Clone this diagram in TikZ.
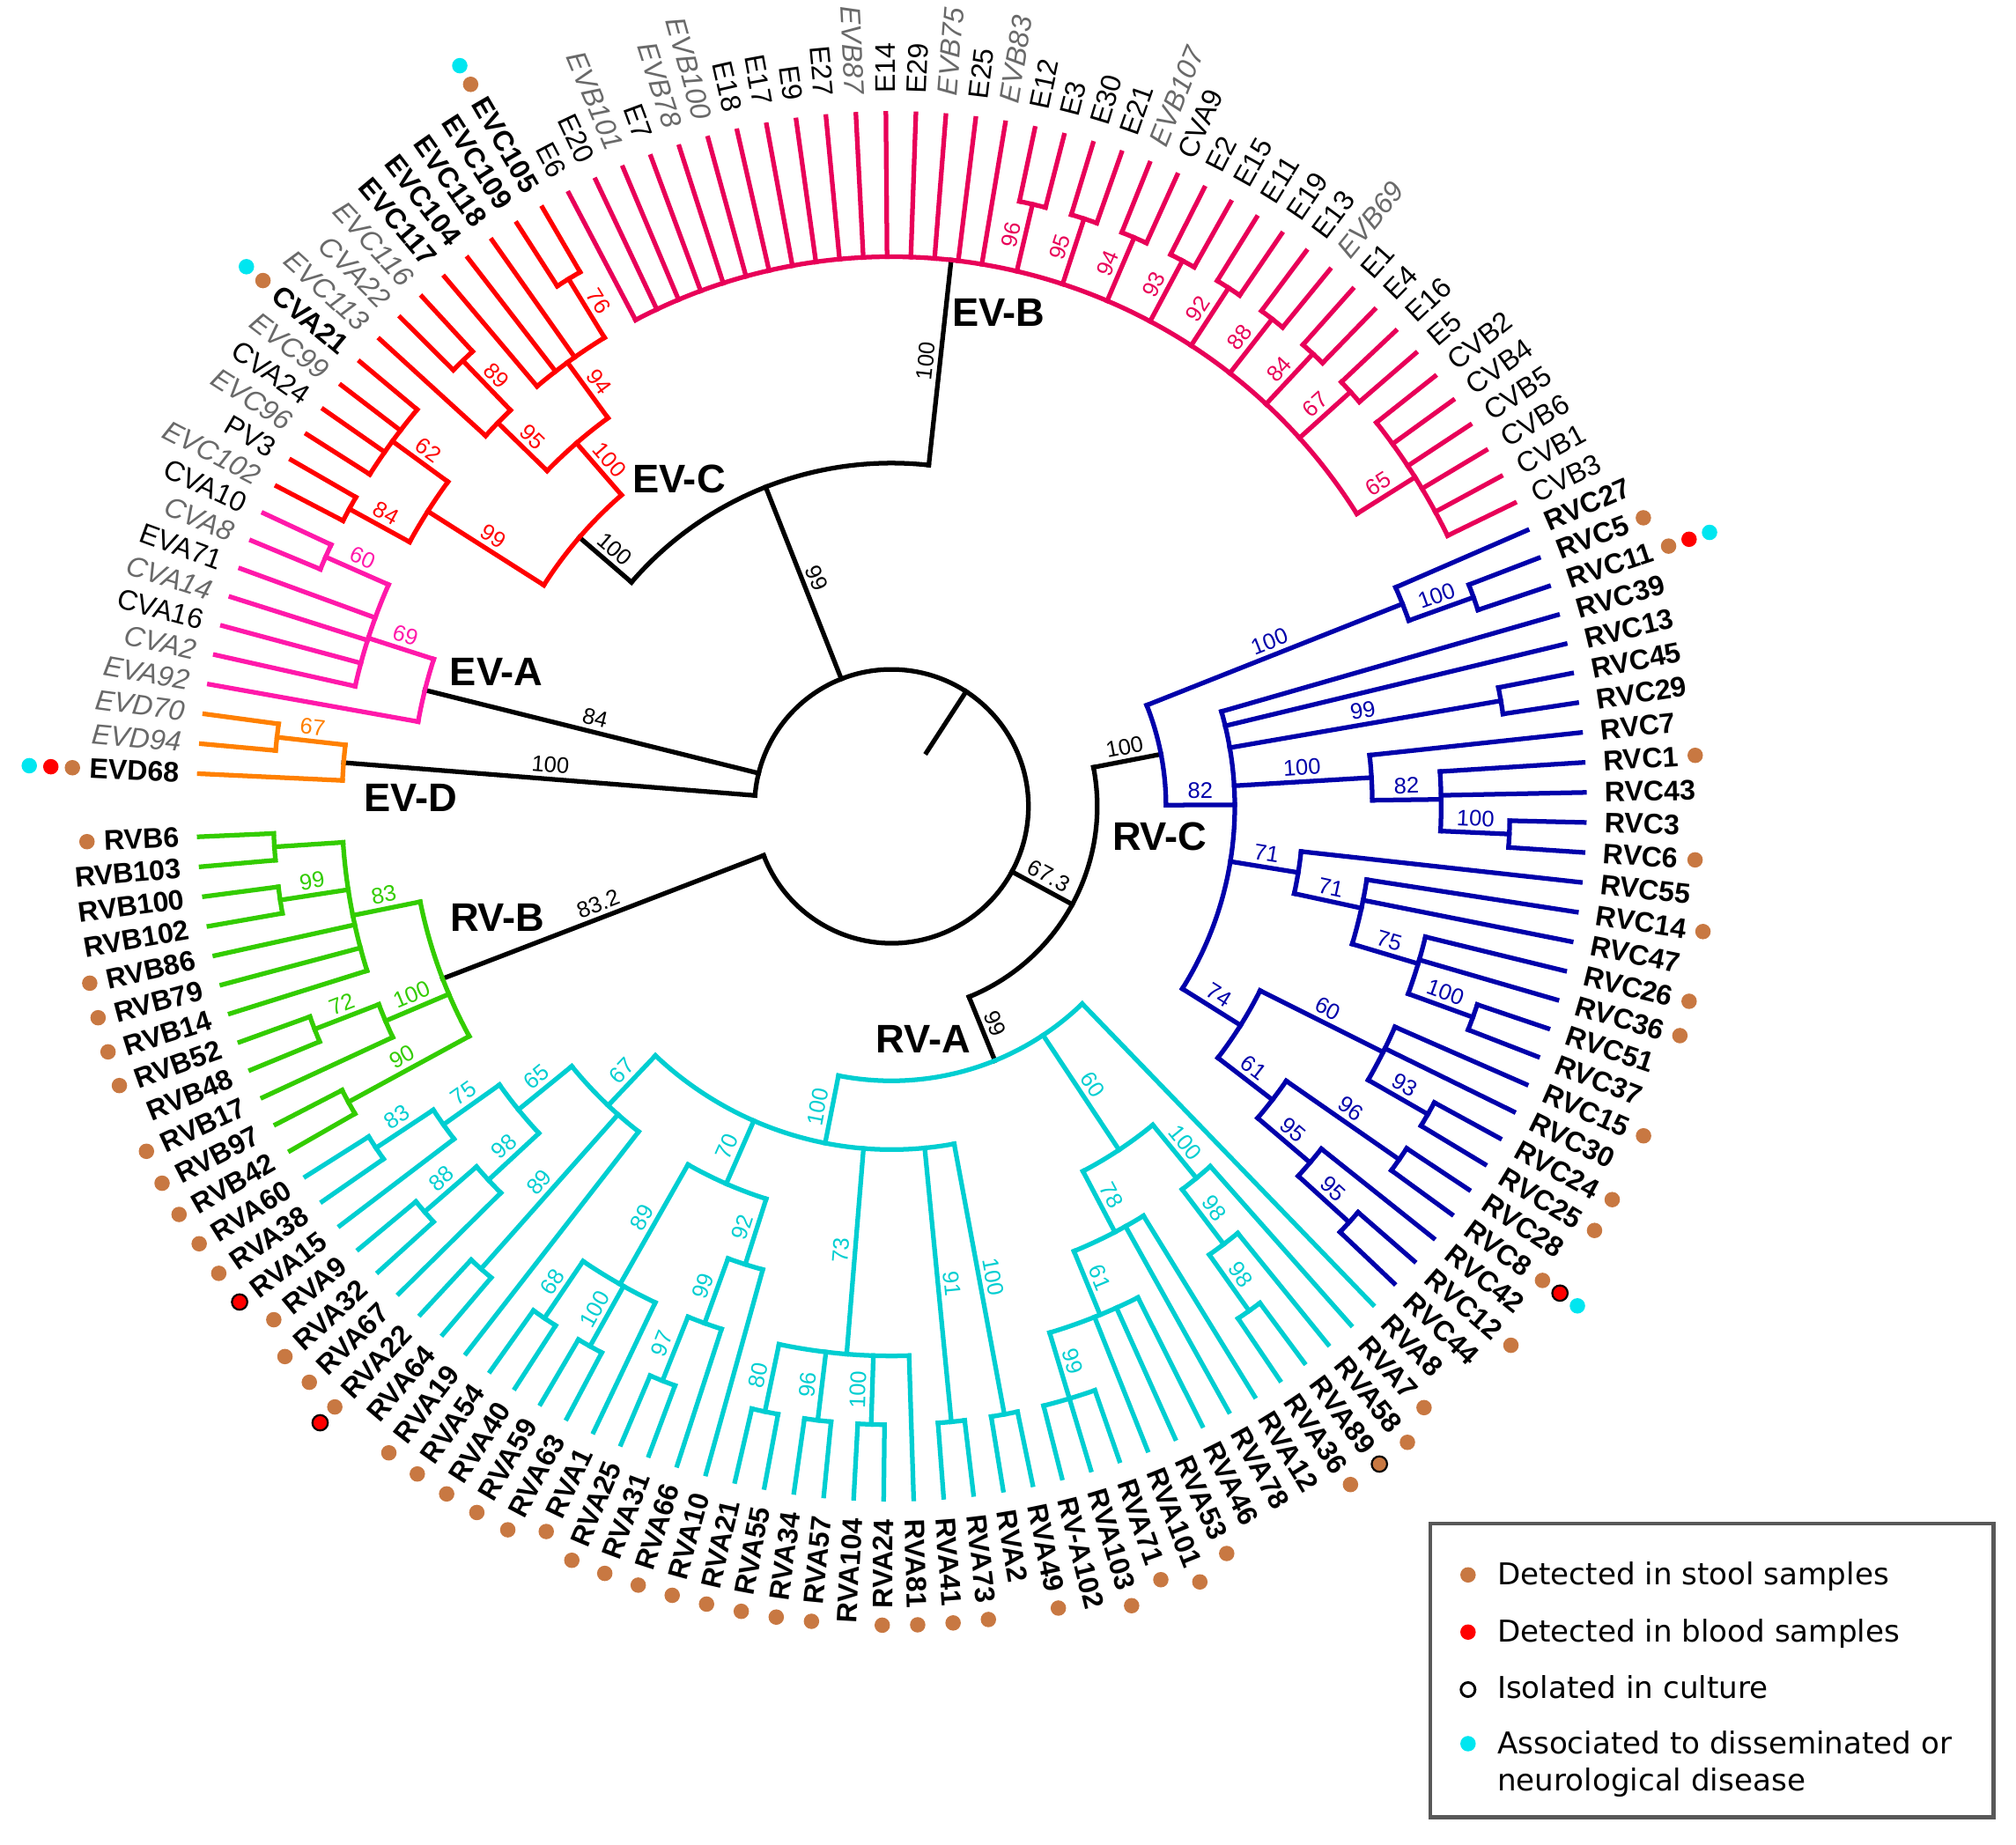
\documentclass[tikz,border=0pt]{standalone}
\usepackage{fontspec}
\setmainfont{Liberation Sans}
\newfontfamily\legfont{DejaVu Sans}
\definecolor{evd}{RGB}{255,128,0}
\definecolor{eva}{RGB}{255,25,170}
\definecolor{evb}{RGB}{232,0,88}
\definecolor{evc}{RGB}{255,0,0}
\definecolor{rva}{RGB}{0,206,209}
\definecolor{rvb}{RGB}{51,204,0}
\definecolor{rvc}{RGB}{0,0,170}
\definecolor{gtxt}{RGB}{105,105,105}
\definecolor{stool}{RGB}{200,120,66}
\definecolor{blood}{RGB}{255,0,0}
\definecolor{dis}{RGB}{0,230,240}
\definecolor{legbox}{RGB}{88,88,88}
% level -> radius
\newcommand\Rv[1]{(106.5+53.5*(#1))}
% radial stem: idx, level1, level2
\newcommand\stm[3]{\draw ({177.3-2.481*(#1)}:{\Rv{#2}*1pt}) -- ({177.3-2.481*(#1)}:{\Rv{#3}*1pt});}
% arc: idx1, idx2, level
\newcommand\carc[3]{\draw ({177.3-2.481*(#1)}:{\Rv{#3}*1pt}) arc[start angle={177.3-2.481*(#1)}, end angle={177.3-2.481*(#2)}, radius={\Rv{#3}*1pt}];}
% bootstrap label: idx, level1, level2, text
\newcommand\bsl[4]{%
  \pgfmathsetmacro\thb{177.3-2.481*(#1)}%
  \pgfmathsetmacro\phb{(\thb>91||\thb<-89.5)?\thb+180:\thb}%
  \pgfmathsetmacro\rb{(\Rv{#2}+\Rv{#3})/2}%
  \path (\thb:\rb pt) node[bsn,rotate=\phb] {#4};}
% leaf: idx, parent level, text, style
\newcommand\tipleaf[4]{%
  \pgfmathsetmacro\thl{177.3-2.481*(#1)}%
  \draw (\thl:{\Rv{#2}*1pt}) -- (\thl:539pt);%
  \pgfmathsetmacro\ph{(\thl>91||\thl<-89.5)?\thl+180:\thl}%
  \pgfmathsetmacro\fl{(\thl>91||\thl<-89.5)?1:0}%
  \ifdim\fl pt>0.5pt
    \path (\thl:553pt) node[#4,rotate=\ph,anchor=east] (L#1) {#3};
  \else
    \path (\thl:553pt) node[#4,rotate=\ph,anchor=west] (L#1) {#3};
  \fi}
% dots after a label: idx, list of dot styles
\newcommand\ldt[2]{%
  \pgfmathsetmacro\thd{177.3-2.481*(#1)}%
  \pgfmathsetmacro\fd{(\thd>91||\thd<-89.5)?1:0}%
  \ifdim\fd pt>0.5pt
    \foreach \c [count=\k] in {#2} {\pgfmathsetmacro\dd{11.5+(\k-1)*16.8}\path[\c] (L#1.west) ++(\thd:\dd pt) circle[radius=6pt];}
  \else
    \foreach \c [count=\k] in {#2} {\pgfmathsetmacro\dd{11.5+(\k-1)*16.8}\path[\c] (L#1.east) ++(\thd:\dd pt) circle[radius=6pt];}
  \fi}
\begin{document}
\begin{tikzpicture}[x=1pt,y=1pt,line width=3.6pt,line cap=rect,
  lb/.style={font=\fontsize{22}{26}\selectfont\bfseries,text=black,inner sep=0pt},
  lr/.style={font=\fontsize{22}{26}\selectfont,text=black,inner sep=0pt},
  lg/.style={font=\fontsize{22}{26}\selectfont\itshape,text=gtxt,inner sep=0pt},
  bsn/.style={anchor=south,inner sep=3pt,font=\fontsize{17.5}{19}\selectfont},
  clade/.style={font=\fontsize{31}{34}\selectfont\bfseries,text=black,inner sep=0pt},
  legt/.style={font=\legfont\fontsize{23.4}{26}\selectfont,anchor=base west,inner sep=0pt,text=black},
  dst/.style={fill=stool},
  dbl/.style={fill=blood},
  ddi/.style={fill=dis},
  dblc/.style={fill=blood,draw=black,line width=1.5pt},
  dstc/.style={fill=stool,draw=black,line width=1.5pt}]
\useasboundingbox (-693.4,-807.8) rectangle (874.6,627.2);
\fill[white] (-693.4,-807.8) rectangle (874.6,627.2);

% ---------- root (black) ----------
\begin{scope}[color=black]
\carc{0.75}{135.55}{0}
\draw (57:50pt) -- (57:106.5pt);
\stm{0.75}{0}{6} \bsl{0.75}{0}{6}{100}
\stm{4.55}{0}{5} \bsl{4.55}{0}{5}{84}
\stm{26.52}{0}{3} \bsl{26.52}{0}{3}{99}
\stm{82.94}{0}{1} \bsl{82.94}{0}{1}{67.3}
\stm{135.55}{0}{5} \bsl{135.55}{0}{5}{83.2}
\carc{15.34}{37.7}{3}
\stm{15.34}{3}{4} \bsl{15.34}{3}{4}{100}
\stm{37.7}{3}{6} \bsl{37.7}{3}{6}{100}
\carc{67.05}{98.82}{1}
\stm{67.05}{1}{2} \bsl{67.05}{1}{2}{100}
\stm{98.82}{1}{2} \bsl{98.82}{1}{2}{99}
\end{scope}

% ---------- EV-D ----------
\begin{scope}[color=evd]
\carc{0}{1.5}{6}
\tipleaf{0}{6}{EVD68}{lb}
\stm{1.5}{6}{7} \bsl{1.5}{6}{7}{67}
\carc{1}{2}{7}
\tipleaf{1}{7}{EVD94}{lg}
\tipleaf{2}{7}{EVD70}{lg}
\end{scope}

% ---------- EV-A ----------
\begin{scope}[color=eva]
\carc{3}{6.1}{5}
\tipleaf{3}{5}{EVA92}{lg}
\stm{6.1}{5}{6} \bsl{6.1}{5}{6}{69}
\carc{4}{8.5}{6}
\tipleaf{4}{6}{CVA2}{lg}
\tipleaf{5}{6}{CVA16}{lr}
\tipleaf{6}{6}{CVA14}{lg}
\tipleaf{7}{6}{EVA71}{lr}
\stm{8.5}{6}{7} \bsl{8.5}{6}{7}{60}
\carc{8}{9}{7}
\tipleaf{8}{7}{CVA8}{lg}
\tipleaf{9}{7}{CVA10}{lr}
\end{scope}

% ---------- EV-C ----------
\begin{scope}[color=evc]
\carc{12}{18.69}{4}
\stm{12}{4}{6} \bsl{12}{4}{6}{99}
\carc{10.5}{13.5}{6}
\stm{10.5}{6}{7} \bsl{10.5}{6}{7}{84}
\carc{10}{11}{7}
\tipleaf{10}{7}{EVC102}{lg}
\tipleaf{11}{7}{PV3}{lr}
\stm{13.5}{6}{7} \bsl{13.5}{6}{7}{62}
\carc{12}{15}{7}
\tipleaf{12}{7}{EVC96}{lg}
\tipleaf{13}{7}{CVA24}{lr}
\tipleaf{14}{7}{EVC99}{lg}
\tipleaf{15}{7}{CVA21}{lb}
\stm{18.69}{4}{5} \bsl{18.69}{4}{5}{100}
\carc{16.75}{20.625}{5}
\stm{16.75}{5}{6} \bsl{16.75}{5}{6}{95}
\carc{16}{17.5}{6}
\tipleaf{16}{6}{EVC113}{lg}
\stm{17.5}{6}{7} \bsl{17.5}{6}{7}{89}
\carc{17}{18}{7}
\tipleaf{17}{7}{CVA22}{lg}
\tipleaf{18}{7}{EVC116}{lg}
\stm{20.625}{5}{6} \bsl{20.625}{5}{6}{94}
\carc{19}{22.5}{6}
\tipleaf{19}{6}{EVC117}{lb}
\tipleaf{20}{6}{EVC104}{lb}
\tipleaf{21}{6}{EVC118}{lb}
\stm{22.5}{6}{7} \bsl{22.5}{6}{7}{76}
\carc{22}{23}{7}
\tipleaf{22}{7}{EVC109}{lb}
\tipleaf{23}{7}{EVC105}{lb}
\end{scope}

% ---------- EV-B ----------
\begin{scope}[color=evb]
\carc{24}{58.5}{6}
\tipleaf{24}{6}{E6}{lr}
\tipleaf{25}{6}{E20}{lr}
\tipleaf{26}{6}{EVB101}{lg}
\tipleaf{27}{6}{E7}{lr}
\tipleaf{28}{6}{EVB78}{lg}
\tipleaf{29}{6}{EVB100}{lg}
\tipleaf{30}{6}{E18}{lr}
\tipleaf{31}{6}{E17}{lr}
\tipleaf{32}{6}{E9}{lr}
\tipleaf{33}{6}{E27}{lr}
\tipleaf{34}{6}{EVB87}{lg}
\tipleaf{35}{6}{E14}{lr}
\tipleaf{36}{6}{E29}{lr}
\tipleaf{37}{6}{EVB75}{lg}
\tipleaf{38}{6}{E25}{lr}
\tipleaf{39}{6}{EVB83}{lg}
\stm{40.5}{6}{7}\bsl{40.5}{6}{7}{96}\carc{40}{41}{7}
\tipleaf{40}{7}{E12}{lr}\tipleaf{41}{7}{E3}{lr}
\stm{42.5}{6}{7}\bsl{42.5}{6}{7}{95}\carc{42}{43}{7}
\tipleaf{42}{7}{E30}{lr}\tipleaf{43}{7}{E21}{lr}
\stm{44.5}{6}{7}\bsl{44.5}{6}{7}{94}\carc{44}{45}{7}
\tipleaf{44}{7}{EVB107}{lg}\tipleaf{45}{7}{CVA9}{lr}
\stm{46.5}{6}{7}\bsl{46.5}{6}{7}{93}\carc{46}{47}{7}
\tipleaf{46}{7}{E2}{lr}\tipleaf{47}{7}{E15}{lr}
\stm{48.5}{6}{7}\bsl{48.5}{6}{7}{92}\carc{48}{49}{7}
\tipleaf{48}{7}{E11}{lr}\tipleaf{49}{7}{E19}{lr}
\stm{50.5}{6}{7}\bsl{50.5}{6}{7}{88}\carc{50}{51}{7}
\tipleaf{50}{7}{E13}{lr}\tipleaf{51}{7}{EVB69}{lg}
\stm{52.5}{6}{7}\bsl{52.5}{6}{7}{84}\carc{52}{53}{7}
\tipleaf{52}{7}{E1}{lr}\tipleaf{53}{7}{E4}{lr}
\stm{54.5}{6}{7}\bsl{54.5}{6}{7}{67}\carc{54}{55}{7}
\tipleaf{54}{7}{E16}{lr}\tipleaf{55}{7}{E5}{lr}
\stm{58.5}{6}{7}\bsl{58.5}{6}{7}{65}\carc{56}{61}{7}
\tipleaf{56}{7}{CVB2}{lr}
\tipleaf{57}{7}{CVB4}{lr}
\tipleaf{58}{7}{CVB5}{lr}
\tipleaf{59}{7}{CVB6}{lr}
\tipleaf{60}{7}{CVB1}{lr}
\tipleaf{61}{7}{CVB3}{lr}
\end{scope}

% ---------- RV-C ----------
\begin{scope}[color=rvc]
\carc{62.75}{71.36}{2}
\stm{62.75}{2}{6}\bsl{62.75}{2}{6}{100}
\carc{62}{63.5}{6}
\tipleaf{62}{6}{RVC27}{lb}
\stm{63.5}{6}{7}\bsl{63.5}{6}{7}{100}
\carc{63}{64}{7}
\tipleaf{63}{7}{RVC5}{lb}
\tipleaf{64}{7}{RVC11}{lb}
\stm{71.36}{2}{3}\bsl{71.36}{2}{3}{82}
\carc{65}{84.4}{3}
\tipleaf{65}{3}{RVC39}{lb}
\tipleaf{66}{3}{RVC13}{lb}
\stm{67.5}{3}{7}\bsl{67.5}{3}{7}{99}
\carc{67}{68}{7}
\tipleaf{67}{7}{RVC45}{lb}
\tipleaf{68}{7}{RVC29}{lb}
\stm{70.08}{3}{5}\bsl{70.08}{3}{5}{100}
\carc{69}{71.17}{5}
\tipleaf{69}{5}{RVC7}{lb}
\stm{71.17}{5}{6}\bsl{71.17}{5}{6}{82}
\carc{70}{72.5}{6}
\tipleaf{70}{6}{RVC1}{lb}
\tipleaf{71}{6}{RVC43}{lb}
\stm{72.5}{6}{7}\bsl{72.5}{6}{7}{100}
\carc{72}{73}{7}
\tipleaf{72}{7}{RVC3}{lb}
\tipleaf{73}{7}{RVC6}{lb}
\stm{75.19}{3}{4}\bsl{75.19}{3}{4}{71}
\carc{74}{76.39}{4}
\tipleaf{74}{4}{RVC55}{lb}
\stm{76.39}{4}{5}\bsl{76.39}{4}{5}{71}
\carc{75}{78.17}{5}
\tipleaf{75}{5}{RVC14}{lb}
\tipleaf{76}{5}{RVC47}{lb}
\stm{78.17}{5}{6}\bsl{78.17}{5}{6}{75}
\carc{77}{79.5}{6}
\tipleaf{77}{6}{RVC26}{lb}
\tipleaf{78}{6}{RVC36}{lb}
\stm{79.5}{6}{7}\bsl{79.5}{6}{7}{100}
\carc{79}{80}{7}
\tipleaf{79}{7}{RVC51}{lb}
\tipleaf{80}{7}{RVC37}{lb}
\stm{84.4}{3}{4}\bsl{84.4}{3}{4}{74}
\carc{82.17}{86.625}{4}
\stm{82.17}{4}{6}\bsl{82.17}{4}{6}{60}
\carc{81}{83.5}{6}
\tipleaf{81}{6}{RVC15}{lb}
\tipleaf{82}{6}{RVC30}{lb}
\stm{83.5}{6}{7}\bsl{83.5}{6}{7}{93}
\carc{83}{84}{7}
\tipleaf{83}{7}{RVC24}{lb}
\tipleaf{84}{7}{RVC25}{lb}
\stm{86.625}{4}{5}\bsl{86.625}{4}{5}{61}
\carc{85.5}{87.75}{5}
\stm{85.5}{5}{7}\bsl{85.5}{5}{7}{96}
\carc{85}{86}{7}
\tipleaf{85}{7}{RVC28}{lb}
\tipleaf{86}{7}{RVC8}{lb}
\stm{87.75}{5}{6}\bsl{87.75}{5}{6}{95}
\carc{87}{88.5}{6}
\tipleaf{87}{6}{RVC42}{lb}
\stm{88.5}{6}{7}\bsl{88.5}{6}{7}{95}
\carc{88}{89}{7}
\tipleaf{88}{7}{RVC12}{lb}
\tipleaf{89}{7}{RVC44}{lb}
\end{scope}

% ---------- RV-A ----------
\begin{scope}[color=rva]
\carc{90}{112.23}{2}
\tipleaf{90}{2}{RVA8}{lb}
\stm{94.23}{2}{4}\bsl{94.23}{2}{4}{60}
\carc{91.875}{96.58}{4}
\stm{91.875}{4}{5}\bsl{91.875}{4}{5}{100}
\carc{91}{92.75}{5}
\tipleaf{91}{5}{RVA7}{lb}
\stm{92.75}{5}{6}\bsl{92.75}{5}{6}{98}
\carc{92}{93.5}{6}
\tipleaf{92}{6}{RVA58}{lb}
\stm{93.5}{6}{7}\bsl{93.5}{6}{7}{98}
\carc{93}{94}{7}
\tipleaf{93}{7}{RVA89}{lb}
\tipleaf{94}{7}{RVA36}{lb}
\stm{96.58}{4}{5}\bsl{96.58}{4}{5}{78}
\carc{95}{98.75}{5}
\tipleaf{95}{5}{RVA12}{lb}
\tipleaf{96}{5}{RVA78}{lb}
\stm{98.75}{5}{6}\bsl{98.75}{5}{6}{61}
\carc{97}{101}{6}
\tipleaf{97}{6}{RVA46}{lb}
\tipleaf{98}{6}{RVA53}{lb}
\tipleaf{99}{6}{RVA101}{lb}
\stm{101}{6}{7}\bsl{101}{6}{7}{99}
\carc{100}{102}{7}
\tipleaf{100}{7}{RVA71}{lb}
\tipleaf{101}{7}{RVA103}{lb}
\tipleaf{102}{7}{RV-A102}{lb}
\stm{112.23}{2}{3}\bsl{112.23}{2}{3}{100}
\carc{103.5}{125.25}{3}
\stm{103.5}{3}{7}\bsl{103.5}{3}{7}{100}
\carc{103}{104}{7}
\tipleaf{103}{7}{RVA49}{lb}
\tipleaf{104}{7}{RVA2}{lb}
\stm{105.5}{3}{7}\bsl{105.5}{3}{7}{91}
\carc{105}{106}{7}
\tipleaf{105}{7}{RVA73}{lb}
\tipleaf{106}{7}{RVA41}{lb}
\stm{109.625}{3}{6}\bsl{109.625}{3}{6}{73}
\carc{107}{112.5}{6}
\tipleaf{107}{6}{RVA81}{lb}
\stm{108.5}{6}{7}\bsl{108.5}{6}{7}{100}
\carc{108}{109}{7}
\tipleaf{108}{7}{RVA24}{lb}
\tipleaf{109}{7}{RVA104}{lb}
\stm{110.5}{6}{7}\bsl{110.5}{6}{7}{96}
\carc{110}{111}{7}
\tipleaf{110}{7}{RVA57}{lb}
\tipleaf{111}{7}{RVA34}{lb}
\stm{112.5}{6}{7}\bsl{112.5}{6}{7}{80}
\carc{112}{113}{7}
\tipleaf{112}{7}{RVA55}{lb}
\tipleaf{113}{7}{RVA21}{lb}
\stm{117.27}{3}{4}\bsl{117.27}{3}{4}{70}
\carc{114.875}{119.67}{4}
\stm{114.875}{4}{5}\bsl{114.875}{4}{5}{92}
\carc{114}{115.75}{5}
\tipleaf{114}{5}{RVA10}{lb}
\stm{115.75}{5}{6}\bsl{115.75}{5}{6}{99}
\carc{115}{116.5}{6}
\tipleaf{115}{6}{RVA66}{lb}
\stm{116.5}{6}{7}\bsl{116.5}{6}{7}{97}
\carc{116}{117}{7}
\tipleaf{116}{7}{RVA31}{lb}
\tipleaf{117}{7}{RVA25}{lb}
\stm{119.67}{4}{6}\bsl{119.67}{4}{6}{89}
\carc{118}{121.5}{6}
\tipleaf{118}{6}{RVA1}{lb}
\stm{119.5}{6}{7}\bsl{119.5}{6}{7}{100}
\carc{119}{120}{7}
\tipleaf{119}{7}{RVA63}{lb}
\tipleaf{120}{7}{RVA59}{lb}
\stm{121.5}{6}{7}\bsl{121.5}{6}{7}{68}
\carc{121}{122}{7}
\tipleaf{121}{7}{RVA40}{lb}
\tipleaf{122}{7}{RVA54}{lb}
\stm{125.25}{3}{4}\bsl{125.25}{3}{4}{67}
\carc{123}{128.25}{4}
\tipleaf{123}{4}{RVA19}{lb}
\stm{124.5}{4}{7}\bsl{124.5}{4}{7}{89}
\carc{124}{125}{7}
\tipleaf{124}{7}{RVA64}{lb}
\tipleaf{125}{7}{RVA22}{lb}
\stm{128.25}{4}{5}\bsl{128.25}{4}{5}{65}
\carc{126.75}{129.75}{5}
\stm{126.75}{5}{6}\bsl{126.75}{5}{6}{98}
\carc{126}{127.5}{6}
\tipleaf{126}{6}{RVA67}{lb}
\stm{127.5}{6}{7}\bsl{127.5}{6}{7}{88}
\carc{127}{128}{7}
\tipleaf{127}{7}{RVA32}{lb}
\tipleaf{128}{7}{RVA9}{lb}
\stm{129.75}{5}{6}\bsl{129.75}{5}{6}{75}
\carc{129}{130.5}{6}
\tipleaf{129}{6}{RVA15}{lb}
\stm{130.5}{6}{7}\bsl{130.5}{6}{7}{83}
\carc{130}{131}{7}
\tipleaf{130}{7}{RVA38}{lb}
\tipleaf{131}{7}{RVA60}{lb}
\end{scope}

% ---------- RV-B ----------
\begin{scope}[color=rvb]
\carc{132.5}{139.4}{5}
\stm{132.5}{5}{7}\bsl{132.5}{5}{7}{90}
\carc{132}{133}{7}
\tipleaf{132}{7}{RVB42}{lb}
\tipleaf{133}{7}{RVB97}{lb}
\stm{134.75}{5}{6}\bsl{134.75}{5}{6}{100}
\carc{134}{135.5}{6}
\tipleaf{134}{6}{RVB17}{lb}
\stm{135.5}{6}{7}\bsl{135.5}{6}{7}{72}
\carc{135}{136}{7}
\tipleaf{135}{7}{RVB48}{lb}
\tipleaf{136}{7}{RVB52}{lb}
\stm{139.4}{5}{6}\bsl{139.4}{5}{6}{83}
\carc{137}{142.5}{6}
\tipleaf{137}{6}{RVB14}{lb}
\tipleaf{138}{6}{RVB79}{lb}
\tipleaf{139}{6}{RVB86}{lb}
\stm{140.5}{6}{7}\bsl{140.5}{6}{7}{99}
\carc{140}{141}{7}
\tipleaf{140}{7}{RVB102}{lb}
\tipleaf{141}{7}{RVB100}{lb}
\stm{142.5}{6}{7}
\carc{142}{143}{7}
\tipleaf{142}{7}{RVB103}{lb}
\tipleaf{143}{7}{RVB6}{lb}
\end{scope}

% ---------- dots ----------
\ldt{0}{dst,dbl,ddi}
\ldt{15}{dst,ddi}
\ldt{23}{dst,ddi}
\ldt{63}{dst}
\ldt{64}{dst,dbl,ddi}
\ldt{70}{dst}
\ldt{73}{dst}
\ldt{75}{dst}
\ldt{77}{dst}
\ldt{78}{dst}
\ldt{81}{dst}
\ldt{83}{dst}
\ldt{84}{dst}
\ldt{86}{dst,dblc,ddi}
\ldt{88}{dst}
\ldt{91}{dst}
\ldt{92}{dst}
\ldt{93}{dstc}
\ldt{94}{dst}
\ldt{98}{dst}
\ldt{99}{dst}
\ldt{100}{dst}
\ldt{101}{dst}
\ldt{103}{dst}
\ldt{105}{dst}
\ldt{106}{dst}
\ldt{107}{dst}
\ldt{108}{dst}
\ldt{110}{dst}
\ldt{111}{dst}
\ldt{112}{dst}
\ldt{113}{dst}
\ldt{114}{dst}
\ldt{115}{dst}
\ldt{116}{dst}
\ldt{117}{dst}
\ldt{118}{dst}
\ldt{119}{dst}
\ldt{120}{dst}
\ldt{121}{dst}
\ldt{122}{dst}
\ldt{123}{dst}
\ldt{125}{dst,dblc}
\ldt{126}{dst}
\ldt{127}{dst}
\ldt{128}{dst}
\ldt{129}{dblc}
\ldt{130}{dst}
\ldt{131}{dst}
\ldt{132}{dst}
\ldt{133}{dst}
\ldt{134}{dst}
\ldt{136}{dst}
\ldt{137}{dst}
\ldt{138}{dst}
\ldt{139}{dst}
\ldt{143}{dst}

% ---------- clade names ----------
\node[clade] (cEVB) at (83.3,383.8) {EV-B};
\node[clade] (cEVC) at (-165.3,254.6) {EV-C};
\node[clade] (cEVA) at (-307.2,104.9) {EV-A};
\node[clade] (cEVD) at (-374.2,6.4) {EV-D};
\node[clade] (cRVB) at (-306.6,-86.7) {RV-B};
\node[clade] (cRVC) at (208.6,-23.8) {RV-C};
\node[clade] (cRVA) at (24.8,-181.1) {RV-A};

% ---------- legend ----------
\draw[line width=3pt,draw=legbox] (419.2,-557.8) rectangle (857,-786.2);
\fill[stool] (448.4,-597.8) circle[radius=6pt];
\node[legt] (g1) at (469.4,-605.8) {Detected in stool samples};
\fill[blood] (448.4,-642.3) circle[radius=6pt];
\node[legt] (g2) at (469.4,-650.3) {Detected in blood samples};
\draw[line width=2pt] (448.4,-687) circle[radius=5.5pt];
\node[legt] (g3) at (469.4,-693.7) {Isolated in culture};
\fill[dis] (448.4,-729.1) circle[radius=6pt];
\node[legt] (g4) at (469.4,-737.1) {Associated to disseminated or};
\node[legt] (g5) at (469.4,-765.6) {neurological disease};
\end{tikzpicture}
\end{document}
